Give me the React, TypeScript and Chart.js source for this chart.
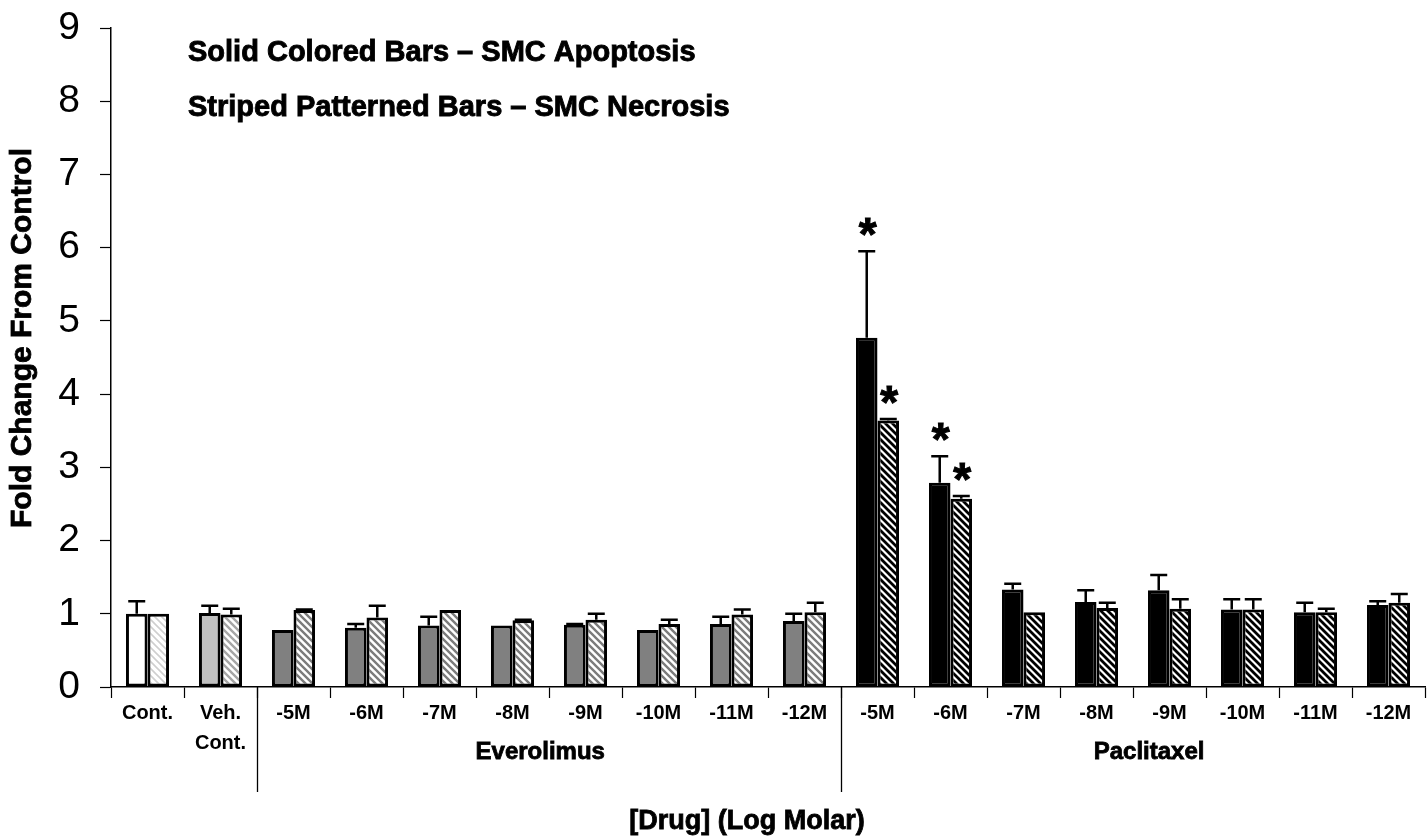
import React, { useEffect, useRef } from "react";
import { Chart, registerables } from "chart.js";

Chart.register(...registerables);

// ---------- data ----------
const categories: (string | string[])[] = [
  "Cont.", ["Veh.", "Cont."],
  "-5M", "-6M", "-7M", "-8M", "-9M", "-10M", "-11M", "-12M",
  "-5M", "-6M", "-7M", "-8M", "-9M", "-10M", "-11M", "-12M",
];
const treatment = [
  "control", "vehicle",
  "everolimus", "everolimus", "everolimus", "everolimus", "everolimus", "everolimus", "everolimus", "everolimus",
  "paclitaxel", "paclitaxel", "paclitaxel", "paclitaxel", "paclitaxel", "paclitaxel", "paclitaxel", "paclitaxel",
];
const apoptosis = [1.0, 1.01, 0.78, 0.81, 0.84, 0.84, 0.85, 0.78, 0.86, 0.9, 4.77, 2.79, 1.33, 1.16, 1.32, 1.06, 1.02, 1.12];
const apoptosisErr = [0.17, 0.1, 0.0, 0.05, 0.12, 0.0, 0.01, 0.0, 0.1, 0.1, 1.18, 0.36, 0.08, 0.16, 0.21, 0.14, 0.13, 0.05];
const necrosis = [1.0, 0.99, 1.05, 0.95, 1.05, 0.91, 0.92, 0.86, 0.99, 1.02, 3.64, 2.57, 1.02, 1.08, 1.07, 1.06, 1.02, 1.15];
const necrosisErr = [0.0, 0.08, 0.01, 0.16, 0.0, 0.01, 0.08, 0.06, 0.07, 0.13, 0.02, 0.04, 0.0, 0.07, 0.13, 0.14, 0.05, 0.12];
const apoptosisSig = [false, false, false, false, false, false, false, false, false, false, true, true, false, false, false, false, false, false];
const necrosisSig = [false, false, false, false, false, false, false, false, false, false, true, true, false, false, false, false, false, false];
const groupNames = ["Everolimus", "Paclitaxel"];
const groupCenters = [5.38, 13.72]; // category-index units
const groupSeparators = [1.5, 9.5];
const noteLines = ["Solid Colored Bars \u2013 SMC Apoptosis", "Striped Patterned Bars \u2013 SMC Necrosis"];
const yTitle = "Fold Change From Control";
const xTitle = "[Drug] (Log Molar)";

// ---------- styles ----------
const FONT = '"Liberation Sans", Arial, Helvetica, sans-serif';
const solidColor: Record<string, string> = {
  control: "#ffffff",
  vehicle: "#c0c0c0",
  everolimus: "#808080",
  paclitaxel: "#000000",
};
const stripeStyle: Record<string, [string, number]> = {
  control: ["#cfcfcf", 1.6],
  vehicle: ["#a6a6a6", 2.4],
  everolimus: ["#7c7c7c", 2.4],
  paclitaxel: ["#000000", 2.8],
};

function makeStripe(color: string, lw: number): CanvasPattern | string {
  const s = 7;
  const c = document.createElement("canvas");
  c.width = s;
  c.height = s;
  const g = c.getContext("2d");
  if (!g) return color;
  g.fillStyle = "#ffffff";
  g.fillRect(0, 0, s, s);
  g.strokeStyle = color;
  g.lineWidth = lw;
  g.beginPath();
  for (const k of [-1, 0, 1]) {
    g.moveTo(k * s - 1, -1);
    g.lineTo(k * s + s + 1, s + 1);
  }
  g.stroke();
  return g.createPattern(c, "repeat") || color;
}

function heavyText(ctx: CanvasRenderingContext2D, t: string, x: number, y: number, w: number) {
  ctx.fillText(t, x, y);
  ctx.lineWidth = w;
  ctx.strokeText(t, x, y);
}

const errorBarPlugin = {
  id: "errorBars",
  afterDatasetsDraw(chart: any) {
    const ctx = chart.ctx;
    const y = chart.scales.y;
    const errs = [apoptosisErr, necrosisErr];
    const vals = [apoptosis, necrosis];
    const sigs = [apoptosisSig, necrosisSig];
    ctx.save();
    ctx.strokeStyle = "#000";
    for (let d = 0; d < 2; d++) {
      const meta = chart.getDatasetMeta(d);
      meta.data.forEach((bar: any, i: number) => {
        const err = errs[d][i];
        const topVal = vals[d][i] + err;
        const top = y.getPixelForValue(topVal);
        if (err > 0) {
          ctx.lineWidth = 2.5;
          ctx.beginPath();
          ctx.moveTo(bar.x, bar.y);
          ctx.lineTo(bar.x, top);
          ctx.moveTo(bar.x - 8.5, top);
          ctx.lineTo(bar.x + 8.5, top);
          ctx.stroke();
        }
        if (sigs[d][i]) {
          ctx.fillStyle = "#000";
          ctx.font = `bold 46px ${FONT}`;
          ctx.textAlign = "center";
          ctx.textBaseline = "alphabetic";
          const m = ctx.measureText("*");
          const cy = top - 24;
          const base = cy - (m.actualBoundingBoxDescent - m.actualBoundingBoxAscent) / 2;
          heavyText(ctx, "*", bar.x + 1, base, 1);
        }
      });
    }
    ctx.restore();
  },
};

const textPlugin = {
  id: "extraText",
  afterDraw(chart: any) {
    const ctx = chart.ctx;
    const x = chart.scales.x;
    const area = chart.chartArea;
    ctx.save();
    ctx.fillStyle = "#000";
    ctx.strokeStyle = "#000";

    // group separators
    ctx.lineWidth = 1.3;
    groupSeparators.forEach((v) => {
      const px = Math.round(x.getPixelForValue(v)) + 0.5;
      ctx.beginPath();
      ctx.moveTo(px, area.bottom);
      ctx.lineTo(px, 792);
      ctx.stroke();
    });

    // group labels
    ctx.font = `bold 24px ${FONT}`;
    ctx.textAlign = "center";
    ctx.textBaseline = "middle";
    groupNames.forEach((n, i) => {
      heavyText(ctx, n, x.getPixelForValue(groupCenters[i]), 752, 0.8);
    });

    // x title
    ctx.font = `bold 27px ${FONT}`;
    heavyText(ctx, xTitle, 747, 822, 0.8);

    // notes
    ctx.font = `bold 29px ${FONT}`;
    ctx.textAlign = "left";
    heavyText(ctx, noteLines[0], 188, 53, 0.9);
    heavyText(ctx, noteLines[1], 188, 108, 0.9);

    // y title
    ctx.save();
    ctx.translate(23, 338);
    ctx.rotate(-Math.PI / 2);
    ctx.textAlign = "center";
    ctx.font = `bold 30px ${FONT}`;
    heavyText(ctx, yTitle, 0, 0, 0.8);
    ctx.restore();

    ctx.restore();
  },
};

export default function App() {
  const ref = useRef<HTMLCanvasElement | null>(null);

  useEffect(() => {
    if (!ref.current) return;
    const solidBg = treatment.map((t) => solidColor[t]);
    const stripeBg = treatment.map((t) => makeStripe(stripeStyle[t][0], stripeStyle[t][1]));

    const chart = new Chart(ref.current, {
      type: "bar",
      data: {
        labels: categories as any,
        datasets: [
          {
            label: "SMC Apoptosis",
            data: apoptosis,
            backgroundColor: solidBg as any,
            borderColor: "#000",
            borderWidth: 3,
            borderSkipped: false,
            barPercentage: 1,
            categoryPercentage: 0.59,
          },
          {
            label: "SMC Necrosis",
            data: necrosis,
            backgroundColor: stripeBg as any,
            borderColor: "#000",
            borderWidth: 3,
            borderSkipped: false,
            barPercentage: 1,
            categoryPercentage: 0.59,
          },
        ],
      },
      options: {
        animation: false,
        responsive: false,
        maintainAspectRatio: false,
        layout: { padding: { left: 0, right: 3, top: 0, bottom: 0 } },
        plugins: {
          legend: { display: false },
          tooltip: { enabled: false },
          title: { display: false },
        },
        scales: {
          x: {
            type: "category",
            offset: true,
            grid: {
              display: true,
              drawOnChartArea: false,
              drawTicks: true,
              tickLength: 11,
              tickColor: "#000",
              tickWidth: 1.2,
              offset: true,
            },
            border: { display: true, color: "#000", width: 1.5 },
            ticks: {
              color: "#000",
              font: { family: FONT, size: 20, weight: "bold", lineHeight: 1.5 },
              padding: 0,
              autoSkip: false,
              maxRotation: 0,
              minRotation: 0,
            },
            afterFit: (s: any) => {
              s.height = 152;
              s.paddingLeft = 0;
              s.paddingRight = 0;
              s.paddingTop = 0;
              s.paddingBottom = 0;
            },
          },
          y: {
            min: 0,
            max: 9,
            ticks: {
              stepSize: 1,
              color: "#000",
              font: { family: FONT, size: 39 },
              padding: 20,
            },
            grid: {
              display: true,
              drawOnChartArea: false,
              tickLength: 11,
              tickColor: "#000",
              tickWidth: 1.2,
            },
            border: { display: true, color: "#000", width: 1.5 },
            afterFit: (s: any) => {
              s.width = 111;
              s.paddingTop = 28;
              s.paddingBottom = 0;
              s.paddingLeft = 0;
              s.paddingRight = 0;
            },
          },
        },
      } as any,
      plugins: [errorBarPlugin, textPlugin],
    });
    return () => chart.destroy();
  }, []);

  return (
    <div style={{ position: "fixed", left: 0, top: 0, width: 1428, height: 839, background: "#fff" }}>
      <canvas ref={ref} width={1428} height={839} style={{ display: "block", width: 1428, height: 839 }} />
    </div>
  );
}
